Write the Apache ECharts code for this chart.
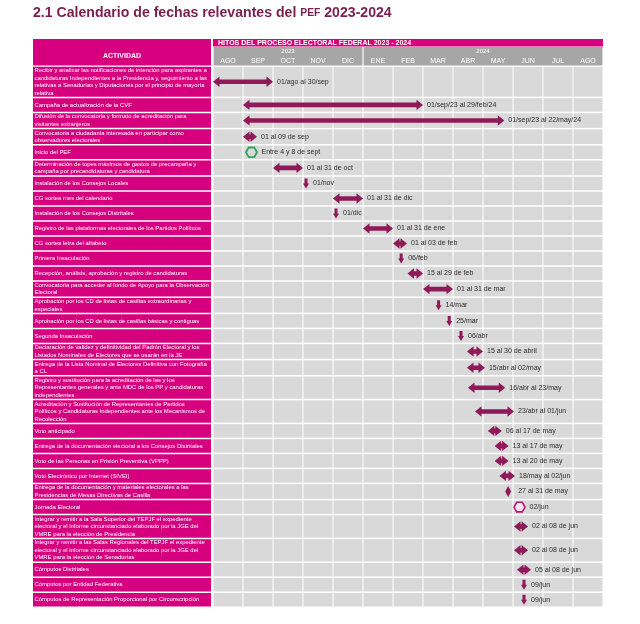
<!DOCTYPE html>
<html>
<head>
<meta charset="utf-8">
<script src="https://cdn.jsdelivr.net/npm/echarts@6/dist/echarts.min.js"></script>
<style>
  html, body { margin: 0; background: #fff; }
  #chart { width: 640px; height: 624px; }
</style>
</head>
<body>
<div id="chart"></div>
<script>
// Calendar of milestones, PEF 2023-2024
const months = ['AGO', 'SEP', 'OCT', 'NOV', 'DIC', 'ENE', 'FEB', 'MAR', 'ABR', 'MAY', 'JUN', 'JUL', 'AGO'];
const years = ['2023', '2024'];
const yearMonths = [5, 8];

const activities = [
  'Recibir y analizar las notificaciones de intención para aspirantes a\ncandidaturas Independientes a la Presidencia y, seguimiento a las\nrelativas a Senadurías y Diputaciones por el principio de mayoría\nrelativa',
  'Campaña de actualización de la CVF',
  'Difusión de la convocatoria y formato de acreditación para\nvisitantes extranjeros',
  'Convocatoria a ciudadanía interesada en participar como\nobservadores electorales',
  'Inicio del PEF',
  'Determinación de topes máximos de gastos de precampaña y\ncampaña por precandidaturas y candidatura',
  'Instalación de los Consejos Locales',
  'CG sortea mes del calendario',
  'Instalación de los Consejos Distritales',
  'Registro de las plataformas electorales de los Partidos Políticos',
  'CG sortea letra del alfabeto',
  'Primera Insaculación',
  'Recepción, análisis, aprobación y registro de candidaturas',
  'Convocatoria para acceder al fondo de Apoyo para la Observación\nElectoral',
  'Aprobación por los CD de listas de casillas extraordinarias y\nespeciales',
  'Aprobación por los CD de listas de casillas básicas y contiguas',
  'Segunda Insaculación',
  'Declaración de validez y definitividad del Padrón Electoral y los\nListados Nominales de Electores que se usarán en la JE',
  'Entrega de la Lista Nominal de Electores Definitiva con Fotografía\na CL',
  'Registro y sustitución para la acreditación de las y los\nRepresentantes generales y ante MDC de los PP y candidaturas\nindependientes',
  'Acreditación y Sustitución de Representantes de Partidos\nPolíticos y Candidaturas Independientes ante los Mecanismos de\nRecolección',
  'Voto anticipado',
  'Entrega de la documentación electoral a los Consejos Distritales',
  'Voto de las Personas en Prisión Preventiva (VPPP)',
  'Voto Electrónico por Internet (SIVEI)',
  'Entrega de la documentación y materiales electorales a las\nPresidencias de Mesas Directivas de Casilla',
  'Jornada Electoral',
  'Integrar y remitir a la Sala Superior del TEPJF el expediente\nelectoral y el informe circunstanciado elaborado por la JGE del\nVMRE para la elección de Presidencia',
  'Integrar y remitir a las Salas Regionales del TEPJF el expediente\nelectoral y el informe circunstanciado elaborado por la JGE del\nVMRE para la elección de Senadurías',
  'Cómputos Distritales',
  'Cómputos por Entidad Federativa',
  'Cómputos de Representación Proporcional por Circunscripción'
];

// range = double arrow, point = down arrow, start / vote = hexagon, window = diamond
const kinds = [
  'range', 'range', 'range', 'range', 'start', 'range', 'point', 'range', 'point', 'range',
  'range', 'point', 'range', 'range', 'point', 'point', 'point', 'range', 'range', 'range',
  'range', 'range', 'range', 'range', 'range', 'window', 'vote', 'range', 'range', 'range',
  'point', 'point'
];
const starts = [
  '2023-08-01', '2023-09-01', '2023-09-01', '2023-09-01', '2023-09-04', '2023-10-01', '2023-11-01', '2023-12-01',
  '2023-12-01', '2024-01-01', '2024-02-01', '2024-02-06', '2024-02-15', '2024-03-01', '2024-03-14', '2024-03-25',
  '2024-04-06', '2024-04-15', '2024-04-15', '2024-04-16', '2024-04-23', '2024-05-06', '2024-05-13', '2024-05-13',
  '2024-05-18', '2024-05-27', '2024-06-02', '2024-06-02', '2024-06-02', '2024-06-05', '2024-06-09', '2024-06-09'
];
const ends = [
  '2023-09-30', '2024-02-29', '2024-05-22', '2023-09-09', '2023-09-08', '2023-10-31', '2023-11-01', '2023-12-31',
  '2023-12-01', '2024-01-31', '2024-02-03', '2024-02-06', '2024-02-29', '2024-03-31', '2024-03-14', '2024-03-25',
  '2024-04-06', '2024-04-30', '2024-05-02', '2024-05-23', '2024-06-01', '2024-05-17', '2024-05-17', '2024-05-20',
  '2024-06-02', '2024-05-31', '2024-06-02', '2024-06-08', '2024-06-08', '2024-06-08', '2024-06-09', '2024-06-09'
];
const notes = [
  '01/ago al 30/sep', '01/sep/23 al 29/feb/24', '01/sep/23 al 22/may/24', '01 al 09 de sep', 'Entre 4 y 8 de sept',
  '01 al 31 de oct', '01/nov', '01 al 31 de dic', '01/dic', '01 al 31 de ene', '01 al 03 de feb', '06/feb',
  '15 al 29 de feb', '01 al 31 de mar', '14/mar', '25/mar', '06/abr', '15 al 30 de abril', '15/abr al 02/may',
  '16/abr al 23/may', '23/abr al 01/jun', '06 al 17 de may', '13 al 17 de may', '13 al 20 de may',
  '18/may al 02/jun', '27 al 31 de may', '02/jun', '02 al 08 de jun', '02 al 08 de jun', '05 al 08 de jun',
  '09/jun', '09/jun'
];

const FONT = 'Liberation Sans';
const MAGENTA = '#d6007f';
const HEAD_GRAY = '#a6a6a6';
const CELL_GRAY = '#d9d9d9';
const ARROW = '#8e1a5a';

// month index (0 = ago 2023) plus the fraction of the month
function monthPos(s, endOfDay) {
  const [y, m, d] = s.split('-').map(Number);
  const days = new Date(y, m, 0).getDate();
  return (y - 2023) * 12 + (m - 8) + (endOfDay ? d : d - 1) / days;
}

// y axis runs in px-like units: three header bands, then one band per activity
const headRows = [8, 9, 10];
const HEAD = headRows.reduce((a, b) => a + b, 0);
const rowH = activities.map(t => Math.max(15, t.split('\n').length * 7.6 + 1));
const rowTop = [];
rowH.reduce((acc, h, i) => { rowTop[i] = acc; return acc + h; }, HEAD);
const TOTAL = HEAD + rowH.reduce((a, b) => a + b, 0);

const activityData = activities.map((t, i) => [0, 1, rowTop[i], rowTop[i] + rowH[i]]);
const cellData = [];
activities.forEach((t, i) => {
  months.forEach((m, j) => cellData.push([j, j + 1, rowTop[i], rowTop[i] + rowH[i]]));
});
const markerData = activities.map((t, i) => [monthPos(starts[i], false), monthPos(ends[i], true), rowTop[i] + rowH[i] / 2]);

// header cells on the timeline side
const y1 = headRows[0], y2 = headRows[0] + headRows[1];
const headItems = [{ v: [0, 13, 0, y1], role: 'hitos', text: 'HITOS DEL PROCESO ELECTORAL FEDERAL 2023 - 2024' }];
let acc = 0;
years.forEach((yr, i) => {
  headItems.push({ v: [acc, acc + yearMonths[i], y1, HEAD], role: 'year', text: yr });
  acc += yearMonths[i];
});
months.forEach((m, j) => headItems.push({ v: [j, j + 1, y2, HEAD], role: 'month', text: m }));
const actHeadItems = [{ v: [0, 1, 0, HEAD], role: 'activity', text: 'ACTIVIDAD' }];

function corners(api) {
  return [api.coord([api.value(0), api.value(2)]), api.coord([api.value(1), api.value(3)])];
}

function renderActivity(params, api) {
  const [a, b] = corners(api);
  return {
    type: 'group',
    children: [
      { type: 'rect', shape: { x: a[0], y: a[1] + 0.75, width: b[0] - a[0], height: b[1] - a[1] - 1.5 }, style: { fill: MAGENTA } },
      {
        type: 'text',
        style: {
          x: a[0] + 1.5, y: (a[1] + b[1]) / 2, text: activities[params.dataIndex],
          fill: '#fff', fontSize: 5.9, fontFamily: FONT, lineHeight: 7.5, align: 'left', verticalAlign: 'middle'
        }
      }
    ]
  };
}

function renderCell(params, api) {
  const [a, b] = corners(api);
  return {
    type: 'rect',
    shape: { x: a[0] + 0.5, y: a[1] + 0.75, width: b[0] - a[0] - 1, height: b[1] - a[1] - 1.5 },
    style: { fill: CELL_GRAY }
  };
}

function headerRenderer(items) {
  return function (params, api) {
    const it = items[params.dataIndex];
    const [a, b] = corners(api);
    const w = b[0] - a[0], h = b[1] - a[1];
    const children = [];
    if (it.role === 'hitos') {
      children.push({ type: 'rect', shape: { x: a[0], y: a[1], width: w, height: h - 0.5 }, style: { fill: MAGENTA } });
      children.push({ type: 'text', style: { x: a[0] + 5, y: a[1] + h / 2, text: it.text, fill: '#fff', fontSize: 7, fontWeight: 'bold', fontFamily: FONT, verticalAlign: 'middle' } });
    } else if (it.role === 'year') {
      const yTxt = api.coord([0, (y1 + y2) / 2])[1];
      children.push({ type: 'rect', shape: { x: a[0] + 0.6, y: a[1], width: w - 1.2, height: h - 0.5 }, style: { fill: HEAD_GRAY } });
      children.push({ type: 'text', style: { x: a[0] + w / 2, y: yTxt, text: it.text, fill: '#fff', fontSize: 6, fontFamily: FONT, align: 'center', verticalAlign: 'middle' } });
    } else if (it.role === 'month') {
      children.push({ type: 'text', style: { x: a[0] + w / 2, y: a[1] + h / 2, text: it.text, fill: '#fff', fontSize: 7, fontFamily: FONT, align: 'center', verticalAlign: 'middle' } });
    } else {
      children.push({ type: 'rect', shape: { x: a[0], y: a[1], width: w, height: h - 0.5 }, style: { fill: MAGENTA } });
      const yTxt = api.coord([0, (y1 + HEAD) / 2])[1];
      children.push({ type: 'text', style: { x: a[0] + w / 2, y: yTxt, text: it.text, fill: '#fff', fontSize: 7, fontWeight: 'bold', fontFamily: FONT, align: 'center', verticalAlign: 'middle' } });
    }
    return { type: 'group', children };
  };
}

function renderMarker(params, api) {
  const i = params.dataIndex;
  const p0 = api.coord([api.value(0), api.value(2)]);
  const p1 = api.coord([api.value(1), api.value(2)]);
  const x0 = p0[0], yc = p0[1];
  let shape, right, style = { fill: ARROW };
  const kind = kinds[i];
  if (kind === 'range') {
    const w = Math.max(p1[0] - x0, 14);
    const xe = x0 + w, hl = Math.min(6.5, w / 2), H = 5.2, S = 2.3;
    shape = [[x0, yc], [x0 + hl, yc - H], [x0 + hl, yc - S], [xe - hl, yc - S], [xe - hl, yc - H],
      [xe, yc], [xe - hl, yc + H], [xe - hl, yc + S], [x0 + hl, yc + S], [x0 + hl, yc + H]];
    right = xe;
  } else if (kind === 'point') {
    const cx = x0 + 3;
    shape = [[cx - 1.5, yc - 5], [cx + 1.5, yc - 5], [cx + 1.5, yc], [cx + 3, yc], [cx, yc + 5], [cx - 3, yc], [cx - 1.5, yc]];
    right = cx + 3;
  } else if (kind === 'window') {
    const cx = x0;
    shape = [[cx, yc - 5.5], [cx + 3, yc], [cx, yc + 5.5], [cx - 3, yc]];
    right = cx + 6;
  } else {
    const cx = x0 + 5.5;
    shape = [[cx - 5.5, yc], [cx - 2.8, yc - 4.8], [cx + 2.8, yc - 4.8], [cx + 5.5, yc], [cx + 2.8, yc + 4.8], [cx - 2.8, yc + 4.8]];
    style = kind === 'start'
      ? { fill: 'rgba(0,0,0,0)', stroke: '#2fa55a', lineWidth: 1.8 }
      : { fill: '#f6e6ef', stroke: '#c0147a', lineWidth: 1.6 };
    right = cx + 6;
  }
  return {
    type: 'group',
    children: [
      { type: 'polygon', shape: { points: shape }, style },
      { type: 'text', style: { x: right + 4, y: yc, text: notes[i], fill: '#2b2b2b', fontSize: 7, fontFamily: FONT, verticalAlign: 'middle' } }
    ]
  };
}

const chart = echarts.init(document.getElementById('chart'));
chart.setOption({
  animation: false,
  graphic: [{
    type: 'text',
    x: 33,
    y: 13,
    scaleX: 0.94,
    style: {
      text: '{a|2.1 Calendario de fechas relevantes del }{b|PEF}{a| 2023-2024}',
      verticalAlign: 'middle',
      rich: {
        a: { fontSize: 15, fontWeight: 'bold', fontFamily: FONT, fill: '#7b1e4f' },
        b: { fontSize: 11, fontWeight: 'bold', fontFamily: FONT, fill: '#7b1e4f' }
      }
    }
  }],
  grid: [
    { left: 33, top: 39, width: 178, height: TOTAL },
    { left: 213, top: 39, width: 390, height: TOTAL }
  ],
  xAxis: [
    { gridIndex: 0, type: 'value', min: 0, max: 1, show: false },
    { gridIndex: 1, type: 'value', min: 0, max: 13, show: false }
  ],
  yAxis: [
    { gridIndex: 0, type: 'value', min: 0, max: TOTAL, inverse: true, show: false },
    { gridIndex: 1, type: 'value', min: 0, max: TOTAL, inverse: true, show: false }
  ],
  series: [
    { type: 'custom', xAxisIndex: 0, yAxisIndex: 0, renderItem: renderActivity, data: activityData, encode: { x: [0, 1], y: [2, 3] } },
    { type: 'custom', xAxisIndex: 0, yAxisIndex: 0, renderItem: headerRenderer(actHeadItems), data: actHeadItems.map(d => d.v), encode: { x: [0, 1], y: [2, 3] } },
    { type: 'custom', xAxisIndex: 1, yAxisIndex: 1, renderItem: renderCell, data: cellData, encode: { x: [0, 1], y: [2, 3] } },
    { type: 'custom', xAxisIndex: 1, yAxisIndex: 1, renderItem: headerRenderer(headItems), data: headItems.map(d => d.v), encode: { x: [0, 1], y: [2, 3] } },
    { type: 'custom', xAxisIndex: 1, yAxisIndex: 1, renderItem: renderMarker, data: markerData, encode: { x: [0, 1], y: 2 }, z: 5 }
  ]
});
</script>
</body>
</html>
